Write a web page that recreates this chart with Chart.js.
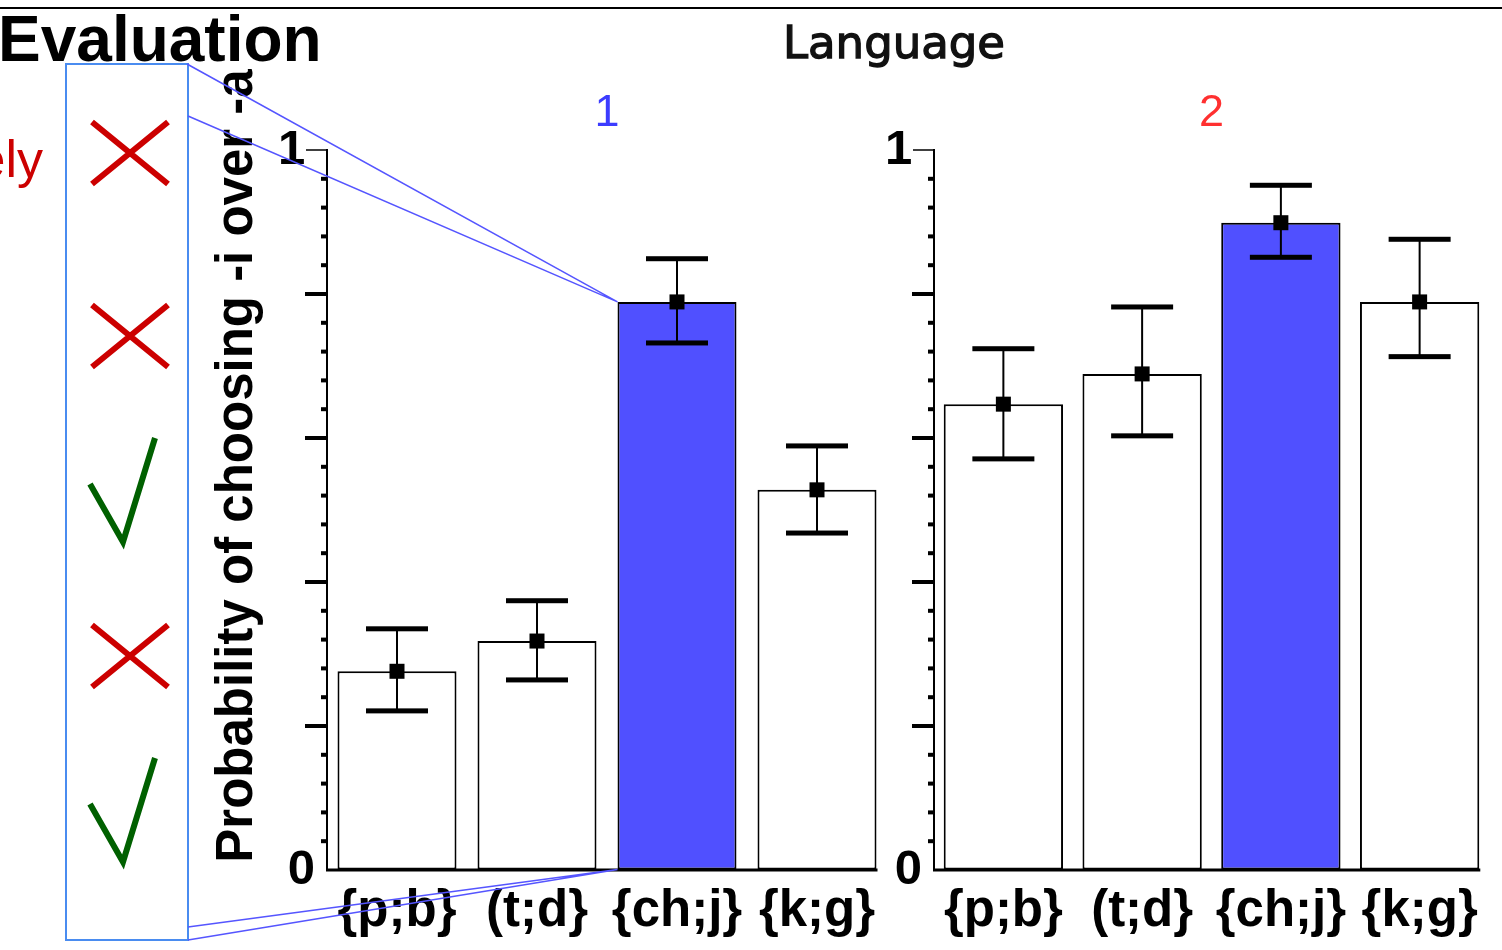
<!DOCTYPE html>
<html>
<head>
<meta charset="utf-8">
<script src="https://cdn.jsdelivr.net/npm/chart.js@4.4.1/dist/chart.umd.min.js"></script>
<style>
  html, body { margin: 0; padding: 0; background: #fff; width: 1502px; height: 950px; overflow: hidden; }
  canvas { position: absolute; top: 0; }
  #chart1 { left: 260px; }
  #chart2 { left: 860px; }
  #overlay { left: 0; pointer-events: none; }
</style>
</head>
<body>
<canvas id="chart1" width="630" height="950"></canvas>
<canvas id="chart2" width="642" height="950"></canvas>
<canvas id="overlay" width="1502" height="950"></canvas>
<script>
// data
const categories = ['{p;b}', '(t;d}', '{ch;j}', '{k;g}'];

const lang1Mean  = [0.276, 0.318, 0.789, 0.528];
const lang1Upper = [0.335, 0.374, 0.849, 0.589];
const lang1Lower = [0.221, 0.264, 0.732, 0.468];

const lang2Mean  = [0.647, 0.689, 0.899, 0.789];
const lang2Upper = [0.724, 0.782, 0.951, 0.876];
const lang2Lower = [0.571, 0.603, 0.851, 0.713];

const yTickLabels = ['0', '1'];
const yTitle = 'Probability of choosing -i over -a';
const evalMarks = ['x', 'x', 'check', 'x', 'check'];

const barColors = ['#ffffff', '#ffffff', '#5050ff', '#ffffff'];
const boldFont = '"Liberation Sans", Arial, sans-serif';

// error bars + mean square
const errorBarPlugin = {
    id: 'errorBars',
    afterDatasetsDraw(chart, args, opts) {
        const ctx = chart.ctx;
        const y = chart.scales.y;
        const means = chart.data.datasets[0].data;
        ctx.save();
        ctx.fillStyle = '#000';
        ctx.strokeStyle = '#000';
        chart.getDatasetMeta(0).data.forEach((bar, i) => {
            const yHi = y.getPixelForValue(opts.upper[i]);
            const yLo = y.getPixelForValue(opts.lower[i]);
            const yMid = y.getPixelForValue(means[i]);
            ctx.lineWidth = 2;
            ctx.beginPath();
            ctx.moveTo(bar.x, yHi);
            ctx.lineTo(bar.x, yLo);
            ctx.stroke();
            ctx.fillRect(bar.x - 31, yHi - 2.5, 62, 5);
            ctx.fillRect(bar.x - 31, yLo - 2.5, 62, 5);
            ctx.fillRect(bar.x - 7.5, yMid - 7.5, 15, 15);
        });
        ctx.restore();
    }
};

// major/minor y ticks and the short x axis line
const axisPlugin = {
    id: 'axisMarks',
    afterDraw(chart) {
        const ctx = chart.ctx;
        const y = chart.scales.y;
        const area = chart.chartArea;
        const bars = chart.getDatasetMeta(0).data;
        const last = bars[bars.length - 1];
        const ax = area.left;
        ctx.save();
        ctx.fillStyle = '#000';
        ctx.strokeStyle = '#000';
        for (let k = 1; k <= 25; k++) {
            const py = y.getPixelForValue(k * 0.04);
            if (k === 25) {
                ctx.lineWidth = 1.5;
                ctx.beginPath();
                ctx.moveTo(ax - 21, py);
                ctx.lineTo(ax, py);
                ctx.stroke();
            } else if (k % 5 === 0) {
                ctx.fillRect(ax - 22, py - 2, 22, 4);
            } else {
                ctx.fillRect(ax - 6, py - 2, 6, 4);
            }
        }
        ctx.fillRect(ax - 1, area.bottom - 1.5, last.x + last.width / 2 + 2 - ax, 3);
        ctx.restore();
    }
};

function makeChart(id, title, titleColor, means, upper, lower, axisWidth, padRight, barPct) {
    return new Chart(document.getElementById(id), {
        type: 'bar',
        data: {
            labels: categories,
            datasets: [{
                data: means,
                backgroundColor: barColors,
                borderColor: '#000',
                borderWidth: 2,
                borderSkipped: false,
                barPercentage: barPct,
                categoryPercentage: 1
            }]
        },
        options: {
            responsive: false,
            animation: false,
            events: [],
            layout: { padding: { top: 0, left: 0, right: padRight, bottom: 0 } },
            plugins: {
                legend: { display: false },
                tooltip: { enabled: false },
                title: {
                    display: true,
                    text: title,
                    color: titleColor,
                    fullSize: false,
                    font: { family: boldFont, size: 45, weight: 'normal', lineHeight: 1.2 },
                    padding: { top: 87, bottom: 9 }
                },
                errorBars: { upper: upper, lower: lower }
            },
            scales: {
                x: {
                    grid: { display: true, drawOnChartArea: false, drawTicks: false },
                    border: { display: false },
                    ticks: {
                        color: '#000',
                        font: { family: boldFont, size: 51, weight: 'bold' },
                        padding: 11,
                        maxRotation: 0,
                        autoSkip: false
                    },
                    afterFit(scale) { scale.height = 80; }
                },
                y: {
                    min: 0,
                    max: 1,
                    grid: { display: true, drawOnChartArea: false, drawTicks: false },
                    border: { display: true, color: '#000', width: 2 },
                    ticks: {
                        stepSize: 0.2,
                        color: '#000',
                        font: { family: boldFont, size: 49, weight: 'bold' },
                        padding: 12,
                        // thin space after the 1 keeps it clear of the top tick
                        callback: v => Math.abs(v) < 1e-6 ? yTickLabels[0] : (Math.abs(v - 1) < 1e-6 ? yTickLabels[1] + '\u2009' : '')
                    },
                    afterFit(scale) { scale.width = axisWidth; }
                }
            }
        },
        plugins: [errorBarPlugin, axisPlugin]
    });
}

const chart1 = makeChart('chart1', '1', '#3c3cff', lang1Mean, lang1Upper, lang1Lower, 67, 3, 0.85);
const chart2 = makeChart('chart2', '2', '#ff3030', lang2Mean, lang2Upper, lang2Lower, 74, 13, 0.86);

// slide decorations around the charts
function drawOverlay() {
    const ctx = document.getElementById('overlay').getContext('2d');

    ctx.fillStyle = '#000';
    ctx.fillRect(0, 7, 1502, 2);

    ctx.font = 'bold 64px ' + boldFont;
    ctx.textBaseline = 'alphabetic';
    ctx.textAlign = 'left';
    ctx.fillText('Evaluation', -2, 61);

    ctx.fillStyle = '#cc0000';
    ctx.font = '52px ' + boldFont;
    ctx.textAlign = 'right';
    ctx.fillText('ely', 43, 177);

    ctx.fillStyle = '#111';
    ctx.strokeStyle = '#111';
    ctx.lineWidth = 1.3;
    ctx.font = '45px "DejaVu Sans", sans-serif';
    ctx.textAlign = 'center';
    ctx.fillText('Language', 894, 58);
    ctx.strokeText('Language', 894, 58);

    // y axis title
    ctx.save();
    ctx.translate(252, 466);
    ctx.rotate(-Math.PI / 2);
    ctx.fillStyle = '#000';
    ctx.font = 'bold 51px ' + boldFont;
    ctx.textAlign = 'center';
    ctx.fillText(yTitle, 0, 0);
    ctx.restore();

    // evaluation box with marks
    ctx.strokeStyle = '#4a8cf0';
    ctx.lineWidth = 2;
    ctx.strokeRect(66, 64, 122, 876);

    const markY = [153, 336, 490, 656, 810];
    ctx.lineCap = 'butt';
    ctx.lineWidth = 6;
    evalMarks.forEach((m, i) => {
        const cy = markY[i];
        ctx.beginPath();
        if (m === 'x') {
            ctx.strokeStyle = '#cc0000';
            ctx.moveTo(92, cy - 31); ctx.lineTo(168, cy + 31);
            ctx.moveTo(92, cy + 31); ctx.lineTo(168, cy - 31);
        } else {
            ctx.strokeStyle = '#006000';
            ctx.moveTo(90, cy - 6); ctx.lineTo(123, cy + 52); ctx.lineTo(155, cy - 52);
        }
        ctx.stroke();
    });

    // lines from the box to the highlighted bar
    const bar = chart1.getDatasetMeta(0).data[2];
    const bx = 260 + bar.x - bar.width / 2;
    ctx.strokeStyle = '#5555ff';
    ctx.lineWidth = 1.5;
    ctx.beginPath();
    ctx.moveTo(187, 64); ctx.lineTo(bx, bar.y);
    ctx.moveTo(188, 116); ctx.lineTo(bx, bar.y);
    ctx.moveTo(188, 927); ctx.lineTo(bx, bar.base);
    ctx.moveTo(188, 940); ctx.lineTo(bx, bar.base);
    ctx.stroke();
}

drawOverlay();
</script>
</body>
</html>
